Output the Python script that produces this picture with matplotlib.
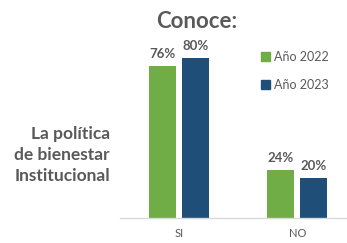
import numpy as np
import matplotlib.pyplot as plt
from matplotlib.patches import Patch

plt.rcParams['font.family'] = ['Lato', 'DejaVu Sans']

categories = ["SI", "NO"]
series_names = ["Año 2022", "Año 2023"]
values_2022 = [76, 24]
values_2023 = [80, 20]
colors = ["#70AD47", "#1F4E79"]
grey = "#595959"

fig = plt.figure(figsize=(3.47, 2.43), dpi=100)
ax = fig.add_axes([0.346, 0.103, 0.654, 0.823])

x = np.arange(len(categories))
w = 0.228
off = 0.139
for vals, dx, c in [(values_2022, -off, colors[0]), (values_2023, off, colors[1])]:
    bars = ax.bar(x + dx, vals, width=w, color=c, zorder=2)
    for b, v in zip(bars, vals):
        ax.text(b.get_x() + b.get_width() / 2, v + 3, f"{v}%", ha="center", va="bottom",
                fontsize=9.5, fontweight="bold", color=grey)

ax.set_xlim(-0.5, 1.42)
ax.set_ylim(0, 100)
ax.set_xticks(x)
ax.set_xticklabels(categories, fontsize=8, color=grey)
ax.tick_params(axis="x", length=0, pad=7)
ax.set_yticks([])
for s in ["top", "right", "left"]:
    ax.spines[s].set_visible(False)
ax.spines["bottom"].set_color("#D9D9D9")
ax.spines["bottom"].set_linewidth(1)

fig.text(197 / 347, 1 - 22 / 243, "Conoce:", ha="center", va="center",
         fontsize=16, fontweight="bold", color=grey)
fig.text(110 / 347, 1 - 155 / 243, "La política\nde bienestar\nInstitucional", ha="right",
         va="center", fontsize=12.5, fontweight="bold", color=grey, linespacing=1.35)

handles = [Patch(color=c) for c in colors]
ax.legend(handles, series_names, loc="upper left", bbox_to_anchor=(261 / 347, 1 - 51 / 243),
          bbox_transform=fig.transFigure, frameon=False, fontsize=9, labelcolor=grey,
          handlelength=0.75, handleheight=0.75, handletextpad=0.25, labelspacing=1.3,
          borderpad=0, borderaxespad=0)

fig.savefig("out.png", dpi=100)
